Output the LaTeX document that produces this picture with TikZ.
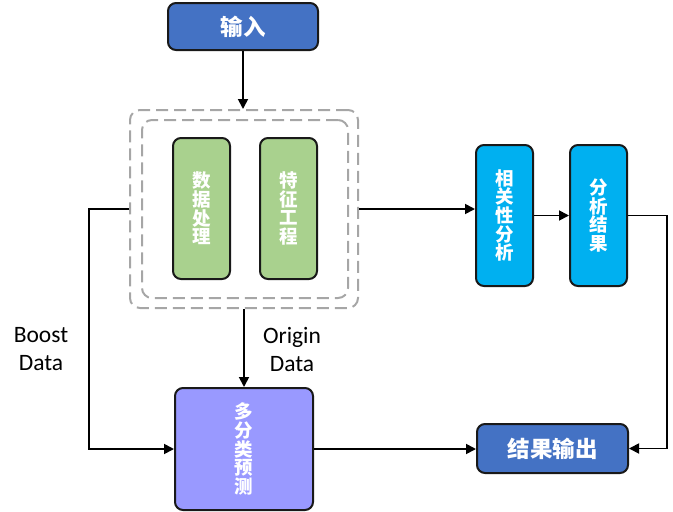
\documentclass[tikz,border=0pt]{standalone}
\usepackage{fontspec}
\setmainfont{Carlito}
\newfontfamily\cjk{Noto Sans CJK SC}
\usetikzlibrary{arrows.meta,positioning}
\definecolor{inblue}{HTML}{4472C4}
\definecolor{stepgreen}{HTML}{A9D18E}
\definecolor{anacyan}{HTML}{00B0F0}
\definecolor{predpurple}{HTML}{9999FF}
\tikzset{
	block/.style={draw=black!90,line width=2pt,rounded corners=8pt,inner sep=0pt,
		text=white,align=center,font=\cjk\bfseries\fontsize{18.5}{18.7}\selectfont},
	wide/.style={font=\cjk\bfseries\fontsize{22.5}{24}\selectfont},
	flow/.style={-{Triangle[length=10pt,width=10pt]},line width=1.8pt},
	dashbox/.style={draw=black!35,line width=2pt,dash pattern=on 12pt off 6pt,rounded corners=10pt},
	tag/.style={align=center,font=\fontsize{23.5}{28}\selectfont}
}

\begin{document}
\begin{tikzpicture}[x=1pt,y=-1pt]
	\useasboundingbox (0,0) rectangle (673,512);
	\node[block,wide,fill=inblue,minimum width=150pt,minimum height=47pt](in) at (243,26.5){输入};
	\node[dashbox,minimum width=228pt,minimum height=198pt](prep) at (244,209){};
	\node[dashbox,minimum width=206pt,minimum height=178pt](prepin) at (245,209){};
	\node[block,fill=stepgreen,minimum width=57pt,minimum height=141pt](proc) at (201.5,208.5){数\\据\\处\\理};
	\node[block,fill=stepgreen,minimum width=57pt,minimum height=141pt](feat)[right=28pt of proc]{特\\征\\工\\程};
	\node[block,fill=anacyan,minimum width=57pt,minimum height=141pt](corr) at (504.5,215.5){相\\关\\性\\分\\析};
	\node[block,fill=anacyan,minimum width=57pt,minimum height=141pt](res)[right=35pt of corr]{分\\析\\结\\果};
	\node[block,fill=predpurple,minimum width=138pt,minimum height=122pt](pred) at (244,449){多\\分\\类\\预\\测};
	\node[block,wide,fill=inblue,minimum width=151pt,minimum height=49pt](out) at (552.5,448.5){结果输出};
	\node[tag](boost) at (41,349){Boost\\Data};
	\node[tag](origin) at (292,349){Origin\\Data};
	\coordinate (lturn) at (89,0);
	\coordinate (rturn) at (667,0);
	\draw[flow](in.south) -- (in.south |- prep.north);
	\draw[flow](prep.east) -- (prep.east -| corr.west);
	\draw[flow](corr) -- (res);
	\draw[flow](res.east) -- (res.east -| rturn) |- (out.east);
	\draw[flow](prep.west) -- (prep.west -| lturn) |- (pred.west);
	\draw[flow](prep.south) -- (pred.north);
	\draw[flow](pred.east) -- (pred.east -| out.west);
\end{tikzpicture}
\end{document}
